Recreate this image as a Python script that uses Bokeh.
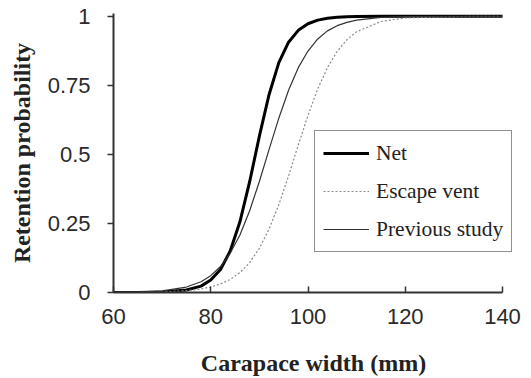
from bokeh.plotting import figure
from bokeh.models import Range1d, FixedTicker, Legend, LegendItem
from bokeh.embed import file_html
from bokeh.resources import INLINE

# Carapace width (mm)
width_mm = [60, 65, 70, 75, 78, 80, 82, 84, 86, 88, 90, 92, 94, 96, 98, 100,
            102, 104, 106, 108, 110, 115, 120, 130, 140]

net = [0.0001, 0.0003, 0.0017, 0.0088, 0.023, 0.045, 0.083, 0.150, 0.256, 0.401,
       0.566, 0.717, 0.832, 0.906, 0.949, 0.973, 0.986, 0.993, 0.996, 0.998,
       0.999, 1.0, 1.0, 1.0, 1.0]

escape_vent = [0.0002, 0.0007, 0.0022, 0.0066, 0.0128, 0.020, 0.031, 0.047, 0.072,
               0.108, 0.160, 0.230, 0.318, 0.422, 0.534, 0.641, 0.737, 0.814,
               0.873, 0.915, 0.944, 0.981, 0.994, 0.999, 1.0]

previous_study = [0.0006, 0.0019, 0.0062, 0.0197, 0.039, 0.061, 0.094, 0.142, 0.208,
                  0.296, 0.402, 0.518, 0.631, 0.732, 0.814, 0.874, 0.918, 0.947,
                  0.966, 0.978, 0.986, 0.996, 0.999, 1.0, 1.0]

x_ticks = [60, 80, 100, 120, 140]
y_ticks = [0, 0.25, 0.5, 0.75, 1]
y_tick_labels = ["0", "0.25", "0.5", "0.75", "1"]

# frame spans 113..513 px; the axis itself stops at 140 (502 px)
p = figure(width=531, height=378, output_backend="svg", toolbar_location=None,
           x_range=Range1d(60, 60 + 80 * 400 / 389), y_range=Range1d(0, 1.01),
           min_border_left=113, min_border_right=18, min_border_top=13, min_border_bottom=86)
p.outline_line_color = None
p.grid.visible = False
p.background_fill_color = "white"
p.border_fill_color = "white"

r_net = p.line(width_mm, net, line_color="black", line_width=3)
r_esc = p.line(width_mm, escape_vent, line_color="#8a8a8a", line_width=1.2, line_dash="2 2")
r_prev = p.line(width_mm, previous_study, line_color="#333333", line_width=1.2)

tick_font = "Liberation Sans"
for ax in (p.xaxis[0], p.yaxis[0]):
    ax.axis_line_color = "#333333"
    ax.axis_line_width = 2
    ax.major_tick_line_color = "#333333"
    ax.major_tick_line_width = 1.5
    ax.minor_tick_line_color = None
    ax.major_label_text_font = tick_font
    ax.major_label_text_font_size = "22px"
    ax.major_label_text_color = "#2a2a2a"
    ax.axis_label_text_font = "Liberation Serif"
    ax.axis_label_text_font_style = "bold"
    ax.axis_label_text_font_size = "24px"
    ax.axis_label_text_color = "#222222"

p.xaxis.ticker = FixedTicker(ticks=x_ticks)
p.xaxis.bounds = (60, 140)
p.xaxis.major_tick_in = 6
p.xaxis.major_tick_out = 0
p.xaxis.major_label_standoff = 16
p.xaxis.axis_label = "Carapace width (mm)"
p.xaxis.axis_label_standoff = 23

p.yaxis.ticker = FixedTicker(ticks=y_ticks)
p.yaxis.major_label_overrides = {t: l for t, l in zip(y_ticks, y_tick_labels)}
p.yaxis.major_tick_in = 0
p.yaxis.major_tick_out = 6
p.yaxis.major_label_standoff = 17
p.yaxis.axis_label = "Retention probability"
p.yaxis.axis_label_standoff = 10

legend = Legend(items=[LegendItem(label="Net", renderers=[r_net]),
                       LegendItem(label="Escape vent", renderers=[r_esc]),
                       LegendItem(label="Previous study", renderers=[r_prev])],
                location=(201, 40))
legend.label_text_font = "Liberation Serif"
legend.label_text_font_size = "21.5px"
legend.label_text_color = "#222222"
legend.glyph_width = 46
legend.glyph_height = 28
legend.label_height = 28
legend.label_standoff = 7
legend.spacing = 10
legend.padding = 8
legend.margin = 0
legend.border_line_color = "#222222"
legend.border_line_width = 1.5
legend.background_fill_color = "white"
legend.background_fill_alpha = 1
p.add_layout(legend)

open("out.html", "w").write(file_html(p, INLINE))
